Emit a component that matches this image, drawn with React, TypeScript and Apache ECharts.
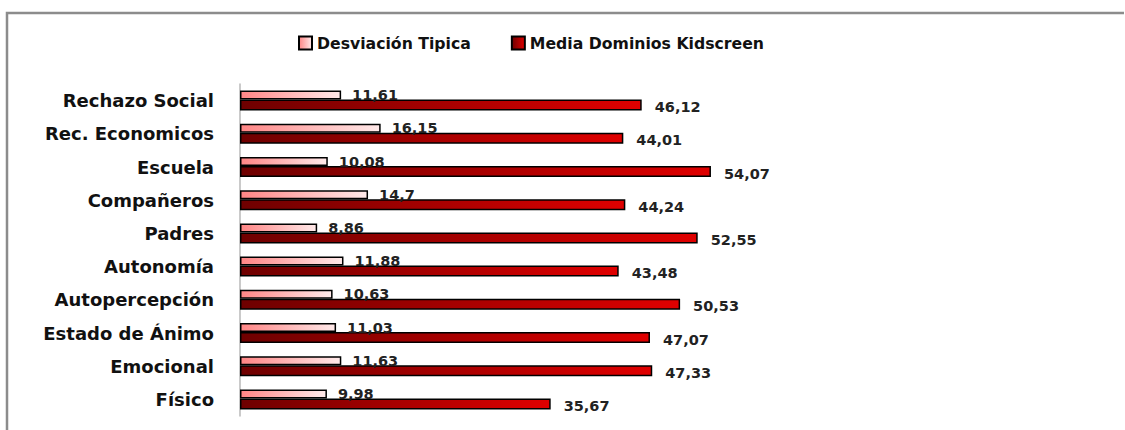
import React, { useEffect, useRef } from "react";
import * as echarts from "echarts";

const categories = [
  "Rechazo Social",
  "Rec. Economicos",
  "Escuela",
  "Compañeros",
  "Padres",
  "Autonomía",
  "Autopercepción",
  "Estado de Ánimo",
  "Emocional",
  "Físico",
];
const desviacion = [11.61, 16.15, 10.08, 14.7, 8.86, 11.88, 10.63, 11.03, 11.63, 9.98];
const media = [46.12, 44.01, 54.07, 44.24, 52.55, 43.48, 50.53, 47.07, 47.33, 35.67];
const seriesNames = ["Desviación Tipica", "Media Dominios Kidscreen"];

const fmt = (p: any) => String(p.value).replace(".", ",");

export default function App() {
  const ref = useRef<HTMLDivElement>(null);
  useEffect(() => {
    if (!ref.current) return;
    const chart = echarts.init(ref.current, undefined, { renderer: "svg" });
    const lightGrad = new echarts.graphic.LinearGradient(0, 0, 1, 0, [
      { offset: 0, color: "#ff8585" },
      { offset: 1, color: "#ffeaea" },
    ]);
    const darkGrad = new echarts.graphic.LinearGradient(0, 0, 1, 0, [
      { offset: 0, color: "#6e0000" },
      { offset: 1, color: "#e00000" },
    ]);
    const labelFont = {
      fontFamily: "DejaVu Sans",
      fontWeight: "bold" as const,
      fontSize: 14.5,
      color: "#222",
    };
    chart.setOption({
      animation: false,
      backgroundColor: "#fff",
      graphic: [
        {
          type: "polyline",
          shape: { points: [[7, 430], [7, 13], [1124, 13]] },
          style: { stroke: "#8c8c8c", lineWidth: 2.5, fill: "none" },
        },
      ],
      legend: {
        top: 30,
        left: 293,
        itemWidth: 13,
        itemHeight: 13,
        itemGap: 40,
        icon: "rect",
        textStyle: {
          fontFamily: "DejaVu Sans",
          fontWeight: "bold",
          fontSize: 15.7,
          color: "#111",
        },
        data: seriesNames,
      },
      grid: { left: 240, width: 871, top: 84, height: 332 },
      xAxis: {
        type: "value",
        min: 0,
        max: 100,
        show: false,
        splitLine: { show: false },
      },
      yAxis: {
        type: "category",
        data: categories,
        inverse: true,
        axisTick: { show: false },
        axisLine: { show: true, lineStyle: { color: "#b8b8b8", width: 1.5 } },
        axisLabel: {
          margin: 26,
          fontFamily: "DejaVu Sans",
          fontWeight: "bold",
          fontSize: 18,
          color: "#111",
        },
      },
      series: [
        {
          name: seriesNames[0],
          type: "bar",
          data: desviacion,
          barWidth: 9,
          barGap: "0%",
          itemStyle: { color: lightGrad, borderColor: "#000", borderWidth: 1.5 },
          label: {
            show: true,
            position: "right",
            distance: 11,
            formatter: fmt,
            ...labelFont,
          },
        },
        {
          name: seriesNames[1],
          type: "bar",
          data: media,
          barWidth: 11,
          itemStyle: { color: darkGrad, borderColor: "#000", borderWidth: 1.5 },
          label: {
            show: true,
            position: "right",
            distance: 13,
            offset: [0, 2],
            formatter: fmt,
            ...labelFont,
          },
        },
      ],
    });
    return () => chart.dispose();
  }, []);
  return (
    <div
      ref={ref}
      style={{ position: "fixed", left: 0, top: 0, width: 1125, height: 430 }}
    />
  );
}
